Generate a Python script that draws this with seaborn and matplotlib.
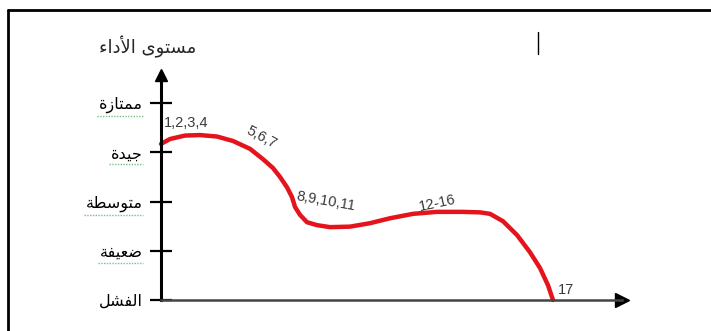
import matplotlib
matplotlib.use('Agg')
import matplotlib.pyplot as plt
import seaborn as sns
from matplotlib.lines import Line2D
from matplotlib.transforms import IdentityTransform

# performance levels on the vertical axis (bottom -> top)
level_values = [0, 1, 2, 3, 4]
level_names = ['الفشل', 'ضعيفة', 'متوسطة', 'جيدة', 'ممتازة']
y_title = 'مستوى الأداء'

# red performance curve
curve_x = [0.0, 1.95, 5.21, 8.46, 12.15, 15.62, 19.31, 22.13, 24.30, 25.81,
           27.33, 28.42, 29.07, 30.15, 31.67, 33.84, 36.66, 41.00, 45.34,
           49.67, 54.66, 59.87, 65.51, 69.20, 71.37, 74.19, 77.22, 80.04,
           82.21, 83.95, 85.03]
curve_y = [3.17, 3.27, 3.34, 3.35, 3.32, 3.23, 3.07, 2.86, 2.68, 2.50,
           2.29, 2.09, 1.89, 1.73, 1.58, 1.52, 1.48, 1.49, 1.56,
           1.66, 1.75, 1.79, 1.79, 1.78, 1.75, 1.60, 1.32, 0.97,
           0.65, 0.30, 0.0]

# stage labels along the curve
stage_labels = ['1,2,3,4', '5,6,7', '8,9,10,11', '12-16', '17']
stage_x = [5.4, 21.9, 35.8, 59.9, 87.9]
stage_y = [3.59, 3.31, 2.0, 1.97, 0.2]
stage_rot = [0, -28, -10, 12, 0]


# matplotlib has no arabic shaping -> pick presentation forms by hand
# (isolated, final, initial, medial)
FORMS = {
    'ا': ('\uFE8D', '\uFE8E', None, None),
    'أ': ('\uFE83', '\uFE84', None, None),
    'ء': ('\uFE80', None, None, None),
    'د': ('\uFEA9', '\uFEAA', None, None),
    'ز': ('\uFEAF', '\uFEB0', None, None),
    'و': ('\uFEED', '\uFEEE', None, None),
    'ة': ('\uFE93', '\uFE94', None, None),
    'ى': ('\uFEEF', '\uFEF0', None, None),
    'م': ('\uFEE1', '\uFEE2', '\uFEE3', '\uFEE4'),
    'س': ('\uFEB1', '\uFEB2', '\uFEB3', '\uFEB4'),
    'ت': ('\uFE95', '\uFE96', '\uFE97', '\uFE98'),
    'ج': ('\uFE9D', '\uFE9E', '\uFE9F', '\uFEA0'),
    'ي': ('\uFEF1', '\uFEF2', '\uFEF3', '\uFEF4'),
    'ط': ('\uFEC1', '\uFEC2', '\uFEC3', '\uFEC4'),
    'ض': ('\uFEBD', '\uFEBE', '\uFEBF', '\uFEC0'),
    'ع': ('\uFEC9', '\uFECA', '\uFECB', '\uFECC'),
    'ف': ('\uFED1', '\uFED2', '\uFED3', '\uFED4'),
    'ش': ('\uFEB5', '\uFEB6', '\uFEB7', '\uFEB8'),
    'ل': ('\uFEDD', '\uFEDE', '\uFEDF', '\uFEE0'),
    'لأ': ('\uFEF7', '\uFEF8', None, None),
    'لا': ('\uFEFB', '\uFEFC', None, None),
}


def shape(txt):
    chars = []
    i = 0
    while i < len(txt):
        if txt[i:i + 2] in ('لأ', 'لا'):
            chars.append(txt[i:i + 2])
            i += 2
        else:
            chars.append(txt[i])
            i += 1
    out = []
    for k, c in enumerate(chars):
        if c not in FORMS:
            out.append(c)
            continue
        f = FORMS[c]
        prev = chars[k - 1] if k > 0 else None
        nxt = chars[k + 1] if k + 1 < len(chars) else None
        jp = prev in FORMS and FORMS[prev][2] is not None and f[1] is not None
        jn = nxt in FORMS and f[2] is not None and FORMS[nxt][1] is not None
        if jp and jn:
            out.append(f[3])
        elif jp:
            out.append(f[1])
        elif jn:
            out.append(f[2])
        else:
            out.append(f[0])
    return ''.join(out[::-1])


sns.set_style('white')
plt.rcParams['font.family'] = ['DejaVu Sans']

W, H = 711, 331
fig = plt.figure(figsize=(W / 100, H / 100), dpi=100)
ax = fig.add_axes([161 / W, 31 / H, 461 / W, 225 / H])

sns.lineplot(x=curve_x, y=curve_y, color='#e3141c', linewidth=3.2, ax=ax,
             clip_on=False, solid_joinstyle='round', solid_capstyle='round')

for lab, x, y, r in zip(stage_labels, stage_x, stage_y, stage_rot):
    ax.text(x, y, lab, ha='center', va='center', rotation=r, fontsize=10.5,
            color='#3a3a3a', family=['Liberation Sans', 'DejaVu Sans'])

ax.set_xlim(0, 100)
ax.set_ylim(0, 4.57)
ax.set_xticks([])
ax.set_yticks(level_values)
ax.set_yticklabels([shape(s) for s in level_names], fontsize=11.5)
ax.tick_params(axis='y', left=True, direction='inout', length=16, width=1.6,
               pad=5, colors='black')
sns.despine(ax=ax)
ax.spines['left'].set_linewidth(2.2)
ax.spines['left'].set_color('black')
ax.spines['bottom'].set_linewidth(1.8)
ax.spines['bottom'].set_color('#444444')
ax.set_xlabel('')
ax.set_ylabel('')

# arrow heads
ax.plot(1, 0, '>', color='black', markersize=10, transform=ax.transAxes,
        clip_on=False)
ax.plot(0, 1, '^', color='black', markersize=8, transform=ax.transAxes,
        clip_on=False)

fig.text(148 / W, 1 - 47 / H, shape(y_title), ha='center', va='center',
         fontsize=13)

# frame of the page and the stray cursor mark
fig.add_artist(Line2D([8 / W, 1.01], [1 - 10 / H] * 2, color='black', lw=2))
fig.add_artist(Line2D([8 / W] * 2, [1 - 10 / H, -0.01], color='black', lw=2))
fig.add_artist(Line2D([538 / W] * 2, [1 - 32 / H, 1 - 54 / H], color='black', lw=1))

# green dotted spell-check underlines below the upper labels
fig.canvas.draw()
renderer = fig.canvas.get_renderer()
for tl in ax.get_yticklabels()[1:]:
    bb = tl.get_window_extent(renderer)
    fig.add_artist(Line2D([bb.x0 - 2, bb.x1], [bb.y0 - 3] * 2,
                          transform=IdentityTransform(), color='#7cbf8a',
                          lw=1, linestyle=(0, (1, 1))))

fig.savefig('out.png', dpi=100)
